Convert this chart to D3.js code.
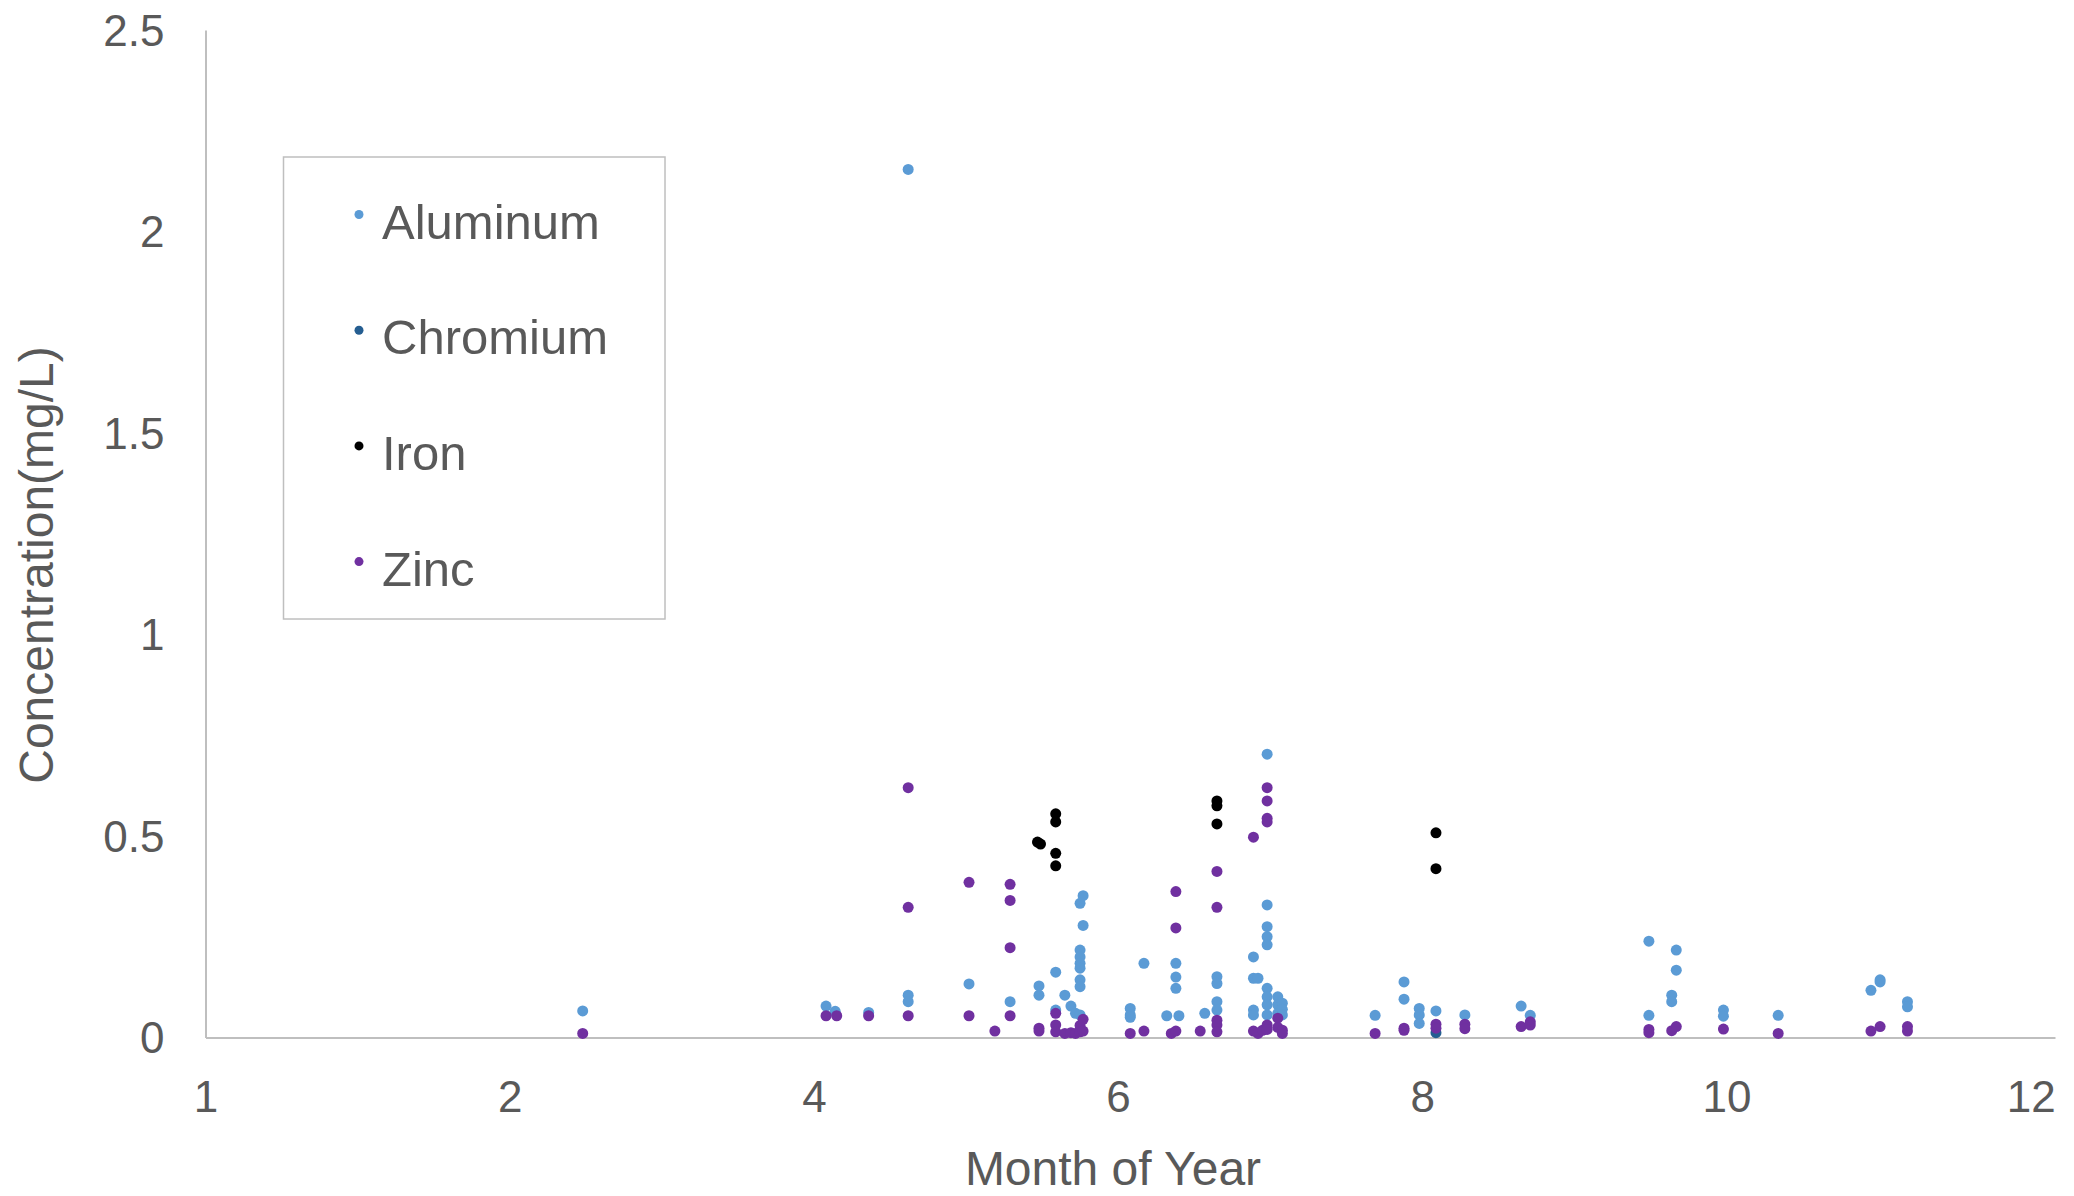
<!DOCTYPE html>
<html>
<head>
<meta charset="utf-8">
<script src="https://cdn.jsdelivr.net/npm/d3@7"></script>
<style>
    body { margin: 0; background: #fff; }
    text { font-family: "Liberation Sans", Arial, sans-serif; fill: #595959; }
</style>
</head>
<body>
<div id="chart"></div>
<script>
// series names and colours (legend order = draw order)
const seriesNames = ["Aluminum", "Chromium", "Iron", "Zinc"];
const seriesColors = ["#5b9bd5", "#255e91", "#000000", "#7030a0"];

// tick positions and the labels printed under them
const xTickValues = [0, 2, 4, 6, 8, 10, 12];
const xTickLabels = ["1", "2", "4", "6", "8", "10", "12"];
const yTickValues = [0, 0.5, 1, 1.5, 2, 2.5];

// [month, concentration mg/L]
const aluminum = [
    [2.48, 0.066], [4.08, 0.078], [4.14, 0.065], [4.36, 0.062],
    [4.62, 2.154], [4.62, 0.105], [4.62, 0.089], [5.02, 0.133], [5.29, 0.089],
    [5.48, 0.128], [5.48, 0.105], [5.59, 0.162], [5.59, 0.068], [5.65, 0.105],
    [5.69, 0.078], [5.72, 0.060], [5.75, 0.333], [5.77, 0.352], [5.77, 0.278],
    [5.75, 0.217], [5.75, 0.200], [5.75, 0.184], [5.75, 0.172], [5.75, 0.143],
    [5.75, 0.126], [5.75, 0.056], [6.08, 0.072], [6.08, 0.056], [6.08, 0.050],
    [6.17, 0.184], [6.38, 0.184], [6.38, 0.150], [6.38, 0.122], [6.32, 0.054],
    [6.40, 0.054], [6.57, 0.060], [6.65, 0.151], [6.65, 0.134], [6.65, 0.089],
    [6.65, 0.068], [6.89, 0.200], [6.89, 0.147], [6.92, 0.147], [6.89, 0.068],
    [6.89, 0.056], [6.98, 0.703], [6.98, 0.329], [6.98, 0.275], [6.98, 0.250],
    [6.98, 0.230], [6.98, 0.122], [6.98, 0.101], [6.98, 0.081], [6.98, 0.056],
    [7.05, 0.101], [7.05, 0.081], [7.05, 0.060], [7.08, 0.085], [7.08, 0.070],
    [7.08, 0.056], [7.69, 0.055], [7.88, 0.138], [7.88, 0.095], [7.98, 0.072],
    [7.98, 0.056], [7.98, 0.035], [8.09, 0.066], [8.28, 0.056], [8.65, 0.078],
    [8.71, 0.055], [9.49, 0.239], [9.49, 0.055], [9.67, 0.217], [9.67, 0.167],
    [9.64, 0.105], [9.64, 0.089], [9.98, 0.068], [9.98, 0.053], [10.34, 0.055],
    [10.95, 0.117], [11.01, 0.143], [11.01, 0.138], [11.19, 0.089], [11.19, 0.076]
];
const chromium = [
    [8.09, 0.012]
];
const iron = [
    [5.47, 0.485], [5.49, 0.480], [5.59, 0.555], [5.59, 0.535], [5.59, 0.457],
    [5.59, 0.426], [6.65, 0.587], [6.65, 0.575], [6.65, 0.530], [8.09, 0.508],
    [8.09, 0.419]
];
const zinc = [
    [2.48, 0.010], [4.08, 0.054], [4.15, 0.054], [4.36, 0.054], [4.62, 0.620],
    [4.62, 0.323], [4.62, 0.054], [5.02, 0.385], [5.02, 0.054], [5.19, 0.016],
    [5.29, 0.380], [5.29, 0.340], [5.29, 0.223], [5.29, 0.054], [5.48, 0.023],
    [5.48, 0.016], [5.59, 0.060], [5.59, 0.031], [5.59, 0.014], [5.65, 0.010],
    [5.69, 0.012], [5.72, 0.010], [5.75, 0.030], [5.75, 0.014], [5.77, 0.045],
    [5.77, 0.016], [6.08, 0.010], [6.17, 0.016], [6.35, 0.010], [6.38, 0.016],
    [6.38, 0.362], [6.38, 0.272], [6.54, 0.016], [6.65, 0.412], [6.65, 0.323],
    [6.65, 0.043], [6.65, 0.031], [6.65, 0.014], [6.89, 0.497], [6.89, 0.016],
    [6.92, 0.010], [6.95, 0.018], [6.98, 0.620], [6.98, 0.587], [6.98, 0.544],
    [6.98, 0.535], [6.98, 0.031], [6.98, 0.020], [7.05, 0.048], [7.05, 0.025],
    [7.08, 0.018], [7.08, 0.010], [7.69, 0.010], [7.88, 0.023], [7.88, 0.018],
    [8.09, 0.033], [8.09, 0.023], [8.28, 0.033], [8.28, 0.022], [8.65, 0.027],
    [8.71, 0.039], [8.71, 0.031], [9.49, 0.020], [9.49, 0.012], [9.64, 0.017],
    [9.67, 0.027], [9.98, 0.021], [10.34, 0.010], [10.95, 0.016], [11.01, 0.027],
    [11.19, 0.027], [11.19, 0.016]
];
const seriesData = [aluminum, chromium, iron, zinc];

// dimensions of the whole picture and of the plot area
const width = 2074, height = 1196;
const margin = {top: 30, right: 19, bottom: 158.5, left: 205.5};
const plotW = width - margin.left - margin.right;
const plotH = height - margin.top - margin.bottom;

const svg = d3.select("#chart").append("svg")
    .attr("width", width)
    .attr("height", height);

const g = svg.append("g")
    .attr("transform", "translate(" + margin.left + "," + margin.top + ")");

let x = d3.scaleLinear().domain([0, 12.16]).range([0, plotW]);
let y = d3.scaleLinear().domain([0, 2.5]).range([plotH, 0]);

// x axis
let xAxis = g.append("g")
    .attr("class", "x axis")
    .attr("transform", "translate(0," + plotH + ")")
    .call(d3.axisBottom(x)
        .tickValues(xTickValues)
        .tickFormat((d, i) => xTickLabels[i])
        .tickSize(0)
        .tickSizeOuter(0));
xAxis.select(".domain").attr("stroke", "#bfbfbf").attr("stroke-width", 2);
xAxis.selectAll("text")
    .attr("y", 59)
    .attr("dy", "0.35em")
    .style("font-size", "44px")
    .style("fill", "#595959");

// y axis
let yAxis = g.append("g")
    .attr("class", "y axis")
    .call(d3.axisLeft(y)
        .tickValues(yTickValues)
        .tickFormat(d3.format("~g"))
        .tickSize(0)
        .tickSizeOuter(0));
yAxis.select(".domain").attr("stroke", "#bfbfbf").attr("stroke-width", 2);
yAxis.selectAll("text")
    .attr("x", -41)
    .attr("dy", "0.35em")
    .style("font-size", "44px")
    .style("fill", "#595959");

// points, one group per series; zinc ends up on top
seriesData.forEach(function (data, i) {
    g.append("g")
        .attr("class", "series")
        .selectAll("circle")
        .data(data)
        .enter().append("circle")
        .attr("cx", d => x(d[0]))
        .attr("cy", d => y(d[1]))
        .attr("r", 5.5)
        .style("fill", seriesColors[i]);
});

// axis titles
svg.append("text")
    .attr("x", 1113)
    .attr("y", 1185)
    .attr("text-anchor", "middle")
    .style("font-size", "48px")
    .text("Month of Year");

svg.append("text")
    .attr("transform", "translate(36,565) rotate(-90)")
    .attr("text-anchor", "middle")
    .attr("dy", "0.35em")
    .style("font-size", "48px")
    .text("Concentration(mg/L)");

// legend
let legend = svg.append("g").attr("class", "legend");
legend.append("rect")
    .attr("x", 283.5)
    .attr("y", 157)
    .attr("width", 381.5)
    .attr("height", 462)
    .attr("fill", "none")
    .attr("stroke", "#bfbfbf")
    .attr("stroke-width", 1.5);

let items = legend.selectAll(".item")
    .data(seriesNames)
    .enter().append("g")
    .attr("class", "item")
    .attr("transform", (d, i) => "translate(359," + (214.5 + i * 115.7) + ")");
items.append("circle")
    .attr("r", 4.5)
    .style("fill", (d, i) => seriesColors[i]);
items.append("text")
    .attr("x", 23)
    .attr("y", 24)
    .style("font-size", "49px")
    .text(d => d);
</script>
</body>
</html>
